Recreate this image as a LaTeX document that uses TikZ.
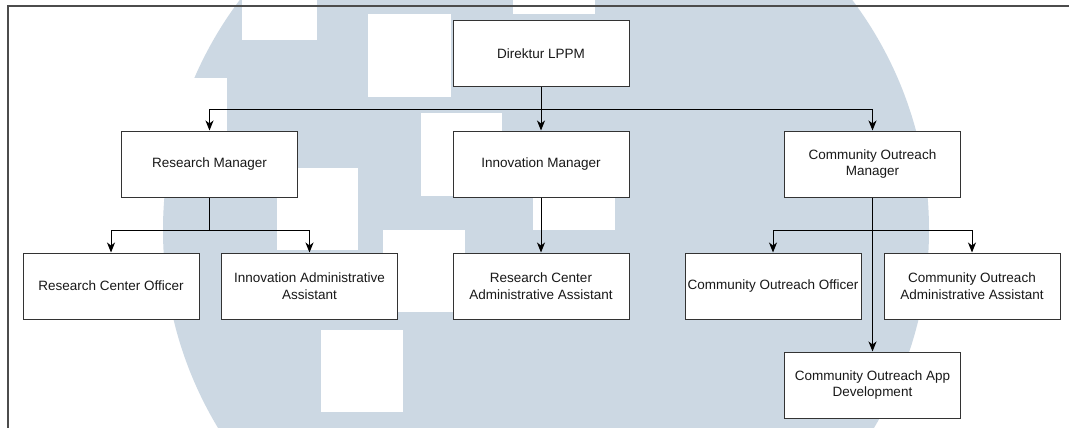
\documentclass[tikz,border=0pt]{standalone}
\usepackage{fontspec}
\setmainfont{Liberation Sans}
\usetikzlibrary{arrows.meta}
\definecolor{wmblue}{RGB}{204,216,227}
\definecolor{boxline}{RGB}{51,51,51}
\definecolor{txt}{RGB}{25,25,25}
\tikzset{
  orgbox/.style={draw=boxline, line width=1pt, fill=white, minimum width=176pt, minimum height=66pt, inner sep=0pt, align=center, text=txt, font=\fontsize{13.5}{16.5}\selectfont},
  conn/.style={draw=black, line width=1pt},
  arr/.style={conn, -{Stealth[length=10pt,width=8pt,inset=3pt]}},
  wmhole/.style={fill=white, draw=none}
}
\begin{document}
\begin{tikzpicture}[x=1pt,y=-1pt]
\useasboundingbox (0,0) rectangle (1069,428);
\clip (0,0) rectangle (1069,428);
\fill[white] (0,0) rectangle (1069,428);
% watermark
\fill[wmblue] (546,230) circle[radius=383pt];
\fill[wmhole] (242,0) rectangle (317,40);
\fill[wmhole] (368,14) rectangle (451,97);
\fill[wmhole] (421,113) rectangle (502,196);
\fill[wmhole] (533,160) rectangle (615,230);
\fill[wmhole] (277,168) rectangle (358,250);
\fill[wmhole] (321,330) rectangle (403,412);
\fill[wmhole] (513,0) rectangle (595,14);
\fill[wmhole] (383,230) rectangle (465,312);
\fill[wmhole] (140,78) rectangle (227,168);
% frame
\draw[draw=black!70, line width=1.3pt] (8,440) -- (8,6) -- (1100,6);
% nodes
\node[orgbox] (dir) at (541,54) {Direktur LPPM};
\node[orgbox] (rm) at (209.5,164) {Research Manager};
\node[orgbox] (im) at (541,164) {Innovation Manager};
\node[orgbox] (com) at (872.5,164) {Community Outreach\\Manager};
\node[orgbox] (rco) at (111,286) {Research Center Officer};
\node[orgbox] (iaa) at (309.5,286) {Innovation Administrative\\Assistant};
\node[orgbox] (rcaa) at (541,286) {Research Center\\Administrative Assistant};
\node[orgbox] (coo) at (773,286) {Community Outreach Officer};
\node[orgbox] (coaa) at (972,286) {Community Outreach\\Administrative Assistant};
\node[orgbox] (app) at (872.5,385) {Community Outreach App\\Development};
% junctions
\coordinate (j1) at (541,109);
\coordinate (j2) at (209.5,230);
\coordinate (j3) at (872.5,230);
% connectors
\draw[conn] (dir.south) -- (j1);
\draw[arr] (j1) -| (rm.north);
\draw[arr] (j1) -| (com.north);
\draw[arr] (j1) -- (im.north);
\draw[conn] (rm.south) -- (j2);
\draw[arr] (j2) -| (rco.north);
\draw[arr] (j2) -| (iaa.north);
\draw[arr] (im.south) -- (rcaa.north);
\draw[arr] (com.south) -- (app.north);
\draw[arr] (j3) -| (coo.north);
\draw[arr] (j3) -| (coaa.north);
\end{tikzpicture}
\end{document}
